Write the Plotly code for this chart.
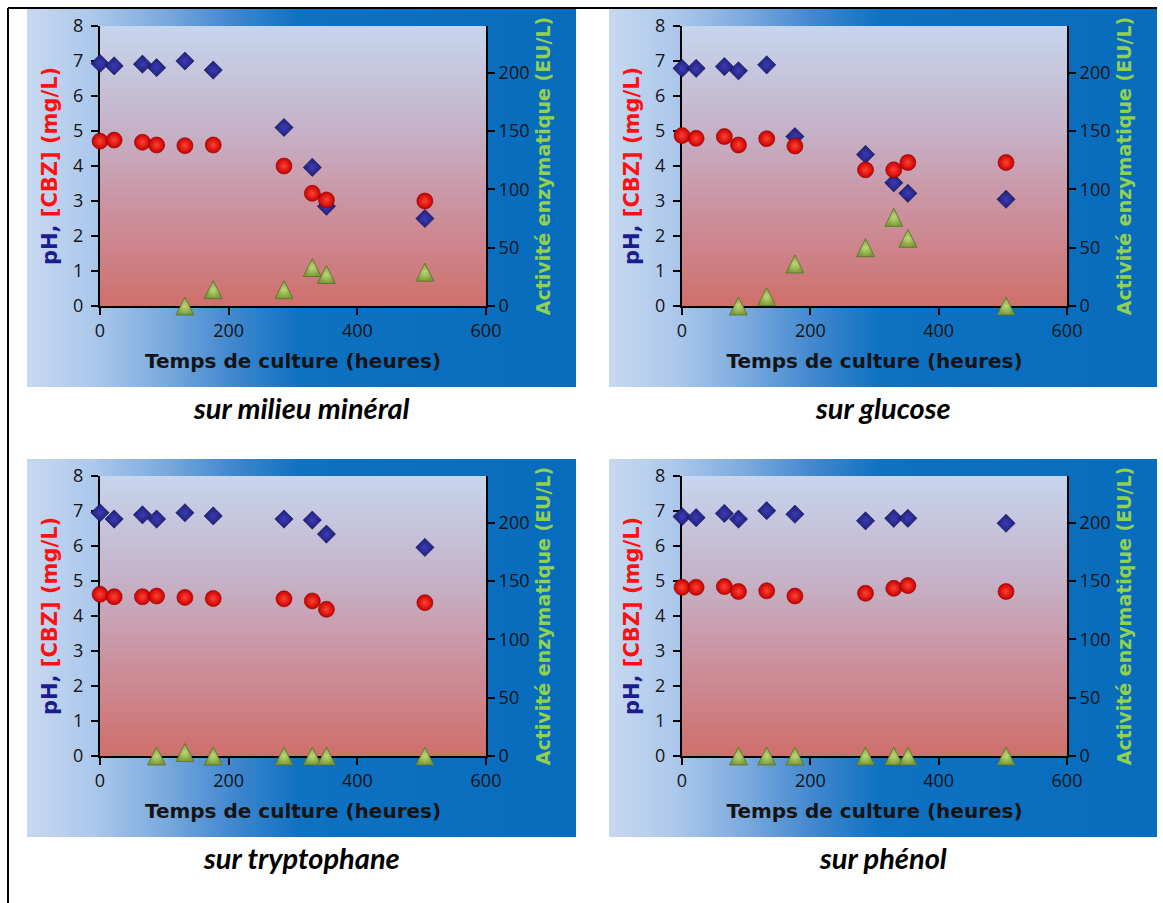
import base64
import struct
import zlib
import plotly.graph_objects as go

# ---------------- data ----------------
time_h = [0, 22, 66, 88, 132, 176, 286, 330, 352, 505]

ph_mineral = [6.93, 6.86, 6.91, 6.81, 7.00, 6.74, 5.10, 3.96, 2.85, 2.50]
cbz_mineral = [4.71, 4.74, 4.68, 4.60, 4.58, 4.60, 4.00, 3.22, 3.03, 3.00]
act_t_mineral = [132, 176, 286, 330, 352, 505]
act_mineral = [0, 14, 14, 33, 27, 29]

ph_glucose = [6.79, 6.79, 6.84, 6.72, 6.89, 4.84, 4.33, 3.52, 3.22, 3.05]
cbz_glucose = [4.87, 4.79, 4.84, 4.60, 4.78, 4.57, 3.89, 3.89, 4.10, 4.10]
act_t_glucose = [88, 132, 176, 286, 330, 352, 505]
act_glucose = [0, 8, 36, 50, 76, 58, 0]

ph_trypto = [6.95, 6.77, 6.89, 6.77, 6.95, 6.86, 6.77, 6.74, 6.34, 5.96]
cbz_trypto = [4.62, 4.55, 4.55, 4.57, 4.53, 4.50, 4.49, 4.43, 4.19, 4.38]
act_t_trypto = [88, 132, 176, 286, 330, 352, 505]
act_trypto = [0, 3, 0, 0, 0, 0, 0]

ph_phenol = [6.84, 6.81, 6.93, 6.77, 7.01, 6.91, 6.72, 6.79, 6.79, 6.65]
cbz_phenol = [4.82, 4.82, 4.84, 4.70, 4.72, 4.57, 4.65, 4.79, 4.87, 4.70]
act_t_phenol = [88, 132, 176, 286, 330, 352, 505]
act_phenol = [0, 0, 0, 0, 0, 0, 0]

captions = ["sur milieu minéral", "sur glucose", "sur tryptophane", "sur phénol"]
x_ticks = [0, 200, 400, 600]
y_ticks = [0, 1, 2, 3, 4, 5, 6, 7, 8]
y2_ticks = [0, 50, 100, 150, 200]

panels = [
    (ph_mineral, cbz_mineral, act_t_mineral, act_mineral),
    (ph_glucose, cbz_glucose, act_t_glucose, act_glucose),
    (ph_trypto, cbz_trypto, act_t_trypto, act_trypto),
    (ph_phenol, cbz_phenol, act_t_phenol, act_phenol),
]

# ---------------- layout geometry (pixels) ----------------
W, H = 1163, 903
plot_boxes = [(100, 26, 486, 306), (682, 26, 1067, 306),
              (100, 476, 486, 756), (682, 476, 1067, 756)]
bg_boxes = [(27, 9, 576, 387), (609, 9, 1157, 387),
            (27, 459, 576, 837), (609, 459, 1157, 837)]
caption_y = [407, 407, 857, 857]
TRI = 18  # triangle marker size (px); apex-anchored, so its hidden axis is offset by TRI/2
Y2_MAX = 240


def fx(x):
    return x / W


def fy(y):
    return 1 - y / H


# ---------------- gradient images ----------------
def lerp_stops(stops, n):
    out = []
    for i in range(n):
        t = i / (n - 1)
        for k in range(len(stops) - 1):
            t0, c0 = stops[k]
            t1, c1 = stops[k + 1]
            if t0 <= t <= t1:
                f = (t - t0) / (t1 - t0) if t1 > t0 else 0
                out.append(tuple(int(round(c0[j] + (c1[j] - c0[j]) * f)) for j in range(3)))
                break
    return out


def png_uri(rows, w, h):
    raw = b"".join(b"\x00" + bytes([v for px in row for v in px]) for row in rows)

    def chunk(tag, data):
        return (struct.pack(">I", len(data)) + tag + data +
                struct.pack(">I", zlib.crc32(tag + data) & 0xFFFFFFFF))

    png = (b"\x89PNG\r\n\x1a\n" +
           chunk(b"IHDR", struct.pack(">IIBBBBB", w, h, 8, 2, 0, 0, 0)) +
           chunk(b"IDAT", zlib.compress(raw, 9)) + chunk(b"IEND", b""))
    return "data:image/png;base64," + base64.b64encode(png).decode()


panel_stops = [(0.0, (200, 216, 240)), (0.12, (172, 200, 235)), (0.25, (122, 170, 222)),
               (0.38, (62, 134, 206)), (0.50, (14, 113, 193)), (1.0, (8, 108, 188))]
plot_stops = [(0.0, (198, 213, 238)), (0.35, (197, 180, 202)), (0.65, (203, 146, 160)),
              (1.0, (207, 112, 108))]

hcols = lerp_stops(panel_stops, 256)
panel_img = png_uri([hcols], 256, 1)
vcols = lerp_stops(plot_stops, 256)
plot_img = png_uri([[c] for c in vcols], 1, 256)

# ---------------- figure ----------------
fig = go.Figure()

tick_font = dict(family="Open Sans, Noto Sans, sans-serif", size=18, color="#141414")
title_font = dict(family="DejaVu Sans, sans-serif", size=20, color="#141414")

images = []
annotations = []
shapes = []

for i, (ph, cbz, act_t, act) in enumerate(panels):
    n = i + 1
    xa = "x" if n == 1 else f"x{n}"
    ya = "y" if n == 1 else f"y{2 * n - 1}"
    yb = f"y{2 * n}"
    yc = f"y{8 + n}"
    x0, y0, x1, y1 = plot_boxes[i]
    bx0, by0, bx1, by1 = bg_boxes[i]

    images.append(dict(source=panel_img, xref="paper", yref="paper", x=fx(bx0), y=fy(by0),
                       sizex=fx(bx1) - fx(bx0), sizey=fy(by0) - fy(by1),
                       sizing="stretch", layer="below", xanchor="left", yanchor="top"))
    images.append(dict(source=plot_img, xref="paper", yref="paper", x=fx(x0), y=fy(y0),
                       sizex=fx(x1) - fx(x0), sizey=fy(y0) - fy(y1),
                       sizing="stretch", layer="below", xanchor="left", yanchor="top"))

    fig.add_trace(go.Scatter(
        x=time_h, y=ph, xaxis=xa, yaxis=ya, mode="markers", name="pH", cliponaxis=False,
        marker=dict(symbol="diamond", size=14, color="#1e1e78",
                    gradient=dict(type="radial", color="#3c3cb4"),
                    line=dict(color="#10104a", width=0.6))))
    fig.add_trace(go.Scatter(
        x=time_h, y=cbz, xaxis=xa, yaxis=ya, mode="markers", name="[CBZ]", cliponaxis=False,
        marker=dict(symbol="circle", size=16, color="#c80000",
                    gradient=dict(type="radial", color="#ff4232"),
                    line=dict(color="#8a0000", width=0.6))))
    # enzyme activity on the true right-hand scale (transparent: carries hover + axis)
    fig.add_trace(go.Scatter(
        x=act_t, y=act, xaxis=xa, yaxis=yb, mode="markers", name="Activité",
        cliponaxis=False, marker=dict(symbol="triangle-up", size=TRI, opacity=0)))
    # visible triangles: apex-anchored symbol on a twin scale shifted by half a marker
    fig.add_trace(go.Scatter(
        x=act_t, y=act, xaxis=xa, yaxis=yc, mode="markers", name="Activité",
        cliponaxis=False, hoverinfo="skip",
        marker=dict(symbol="arrow-up", size=TRI, color="#7c9c38",
                    gradient=dict(type="radial", color="#bcd878"),
                    line=dict(color="#56702a", width=0.8))))

    axis_common = dict(showgrid=False, zeroline=False, showline=True, linecolor="#000000",
                       linewidth=2, ticks="outside", ticklen=7, tickwidth=2,
                       tickcolor="#000000", tickfont=tick_font, layer="below traces",
                       automargin=False)

    fig.layout[xa.replace("x", "xaxis")] = dict(
        axis_common, domain=[fx(x0), fx(x1)], anchor=ya, range=[0, 600],
        tickvals=x_ticks,
        title=dict(text="<b>Temps de culture (heures)</b>", font=title_font, standoff=13))
    fig.layout[ya.replace("y", "yaxis")] = dict(
        axis_common, domain=[fy(y1), fy(y0)], anchor=xa, range=[0, 8], tickvals=y_ticks,
        ticklabelstandoff=4,
        title=dict(text='<b><span style="color:#1c1c8e">pH,</span> '
                        '<span style="color:#ff1010">[CBZ] (mg/L)</span></b>',
                   font=dict(family="DejaVu Sans, sans-serif", size=21), standoff=10))
    fig.layout[yb.replace("y", "yaxis")] = dict(
        axis_common, overlaying=ya, anchor=xa, side="right", range=[0, Y2_MAX],
        tickvals=y2_ticks,
        title=dict(text="<b>Activité enzymatique (EU/L)</b>",
                   font=dict(family="DejaVu Sans, sans-serif", size=19, color="#92d050"),
                   standoff=8))
    shift = (TRI / 2) / (y1 - y0) * Y2_MAX
    fig.layout[yc.replace("y", "yaxis")] = dict(
        overlaying=ya, anchor=xa, range=[-shift, Y2_MAX - shift], visible=False,
        automargin=False)

    annotations.append(dict(text=f"<b><i>{captions[i]}</i></b>", xref="paper", yref="paper",
                            x=fx((bx0 + bx1) / 2), y=fy(caption_y[i]), xanchor="center",
                            yanchor="middle", showarrow=False,
                            font=dict(family="Lato, Open Sans, sans-serif", size=29,
                                      color="#000000")))

# table border lines
shapes.append(dict(type="line", xref="paper", yref="paper", x0=fx(8), x1=fx(1157),
                   y0=fy(8), y1=fy(8), line=dict(color="#000000", width=2)))
shapes.append(dict(type="line", xref="paper", yref="paper", x0=fx(8), x1=fx(8),
                   y0=fy(8), y1=fy(903), line=dict(color="#000000", width=2)))

fig.update_layout(
    width=W, height=H, margin=dict(l=0, r=0, t=0, b=0, autoexpand=False),
    paper_bgcolor="#ffffff", plot_bgcolor="rgba(0,0,0,0)",
    showlegend=False, images=images, annotations=annotations, shapes=shapes,
)

fig.write_html(
    "out.html",
    config={"displayModeBar": False},
    post_script="document.body.style.margin='0';document.body.style.overflow='hidden';",
)
